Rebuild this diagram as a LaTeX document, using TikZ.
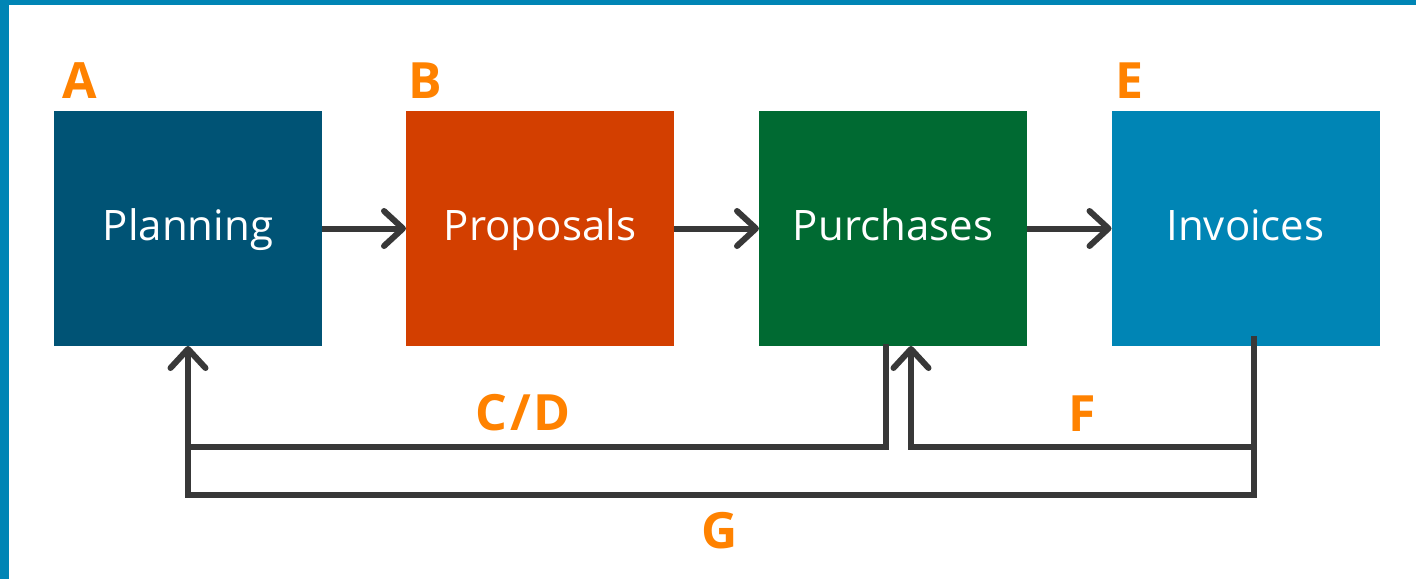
\documentclass[tikz,border=0pt]{standalone}
\usepackage{fontspec}
\setmainfont{Open Sans}
\usetikzlibrary{arrows.meta,calc}
\definecolor{frameblue}{HTML}{0085B5}
\definecolor{cplan}{HTML}{005375}
\definecolor{cprop}{HTML}{D33F00}
\definecolor{cpur}{HTML}{006A32}
\definecolor{cinv}{HTML}{0085B5}
\definecolor{lbl}{HTML}{FF8200}
\definecolor{conncol}{HTML}{383838}
\tikzset{
  stagebox/.style={minimum width=268pt, minimum height=235pt, inner sep=0pt, outer sep=0pt, text=white, text height=32pt, text depth=8pt, font=\fontsize{42}{50}\selectfont},
  letter/.style={text=lbl, font=\fontsize{50}{60}\selectfont\bfseries, inner sep=0pt},
  conn/.style={draw=conncol, line width=6pt, line join=miter},
  tipped/.style={-{Straight Barb[length=19pt,width=35pt,line cap=round,line join=round]}}
}
\begin{document}
\begin{tikzpicture}[x=1pt,y=-1pt]
\useasboundingbox (0,0) rectangle (1416,579);
\fill[white] (0,0) rectangle (1416,579);
\fill[frameblue] (0,0) rectangle (1416,5);
\fill[frameblue] (0,0) rectangle (9,579);
\node[stagebox, fill=cplan] (plan) at (188,228.5) {Planning};
\node[stagebox, fill=cprop] (prop) at (540,228.5) {Proposals};
\node[stagebox, fill=cpur] (pur) at (893,228.5) {Purchases};
\node[stagebox, fill=cinv] (inv) at (1245.5,228.5) {Invoices};
\node[letter] (la) at (80,81) {A};
\node[letter] (lb) at (425,81) {B};
\node[letter] (le) at (1129,81) {E};
\node[letter] (lcd) at (523,413) {C\kern3pt/\kern3pt D};
\node[letter] (lf) at (1082,414) {F};
\node[letter] (lg) at (720,531) {G};
\draw[conn,tipped] (plan.east) -- (prop.west);
\draw[conn,tipped] (prop.east) -- (pur.west);
\draw[conn,tipped] (pur.east) -- (inv.west);
% G: invoices back to planning
\draw[conn,tipped] ($(inv.south)+(8.5,-10)$) |- ($(plan.south)+(0,149)$) -- (plan.south);
% C/D: purchases back to planning
\draw[conn] ($(pur.south)+(-7,-2)$) |- ($(plan.south)+(0,101)$);
% F: invoices back to purchases
\draw[conn,tipped] ($(inv.south)+(8.5,101)$) -| ($(pur.south)+(18,0)$);
\end{tikzpicture}
\end{document}
